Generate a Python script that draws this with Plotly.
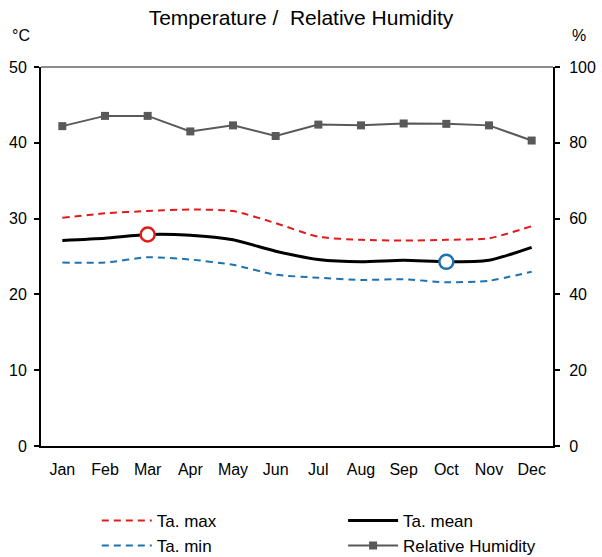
import plotly.graph_objects as go

months = ["Jan", "Feb", "Mar", "Apr", "May", "Jun", "Jul", "Aug", "Sep", "Oct", "Nov", "Dec"]
ta_max = [30.1, 30.7, 31.0, 31.2, 31.0, 29.4, 27.6, 27.2, 27.1, 27.2, 27.4, 29.0]
ta_mean = [27.1, 27.4, 27.9, 27.8, 27.2, 25.7, 24.6, 24.3, 24.5, 24.3, 24.5, 26.2]
ta_min = [24.2, 24.2, 24.9, 24.6, 23.9, 22.6, 22.2, 21.9, 22.0, 21.6, 21.8, 23.0]
humidity = [84.4, 87.1, 87.1, 83.0, 84.6, 81.8, 84.8, 84.6, 85.1, 85.0, 84.6, 80.6]

RED = "#e01b1b"
BLUE = "#1f72b0"
GREY = "#595959"
FONT = "Liberation Sans, Arial, sans-serif"

fig = go.Figure()

fig.add_trace(go.Scatter(x=months, y=ta_max, name="Ta. max", mode="lines", legend="legend",
                         line=dict(color=RED, width=2, dash="7px,5px", shape="spline", smoothing=0.6)))
fig.add_trace(go.Scatter(x=months, y=ta_min, name="Ta. min", mode="lines", legend="legend",
                         line=dict(color=BLUE, width=2, dash="7px,5px", shape="spline", smoothing=0.6)))
fig.add_trace(go.Scatter(x=months, y=ta_mean, name="Ta. mean", mode="lines", legend="legend2",
                         line=dict(color="black", width=3, shape="spline", smoothing=0.6)))
fig.add_trace(go.Scatter(x=months, y=humidity, name="Relative Humidity", mode="lines+markers",
                         yaxis="y2", legend="legend2",
                         line=dict(color=GREY, width=2),
                         marker=dict(symbol="square", size=8, color=GREY)))

# highlight warmest and coolest month of the mean temperature
i_hi = ta_mean.index(max(ta_mean))
i_lo = len(ta_mean) - 1 - ta_mean[::-1].index(min(ta_mean))
fig.add_trace(go.Scatter(x=[months[i_hi]], y=[ta_mean[i_hi]], mode="markers", showlegend=False,
                         marker=dict(symbol="circle", size=14, color="white",
                                     line=dict(color=RED, width=2.5))))
fig.add_trace(go.Scatter(x=[months[i_lo]], y=[ta_mean[i_lo]], mode="markers", showlegend=False,
                         marker=dict(symbol="circle", size=14, color="white",
                                     line=dict(color=BLUE, width=2.5))))

legend_common = dict(orientation="v", xanchor="left", y=-0.15, yanchor="top",
                     font=dict(size=17, family=FONT), itemwidth=50, bgcolor="rgba(0,0,0,0)",
                     tracegroupgap=0)

fig.update_layout(
    width=602, height=557,
    margin=dict(l=41, r=49, t=67, b=111, autoexpand=False),
    paper_bgcolor="white", plot_bgcolor="white",
    font=dict(family=FONT, size=16, color="black"),
    title=dict(text="Temperature /&nbsp; Relative Humidity", x=0.5, xanchor="center",
               y=0.968, yanchor="middle", font=dict(size=21, family=FONT, color="black")),
    xaxis=dict(range=[-0.5, len(months) - 0.5], showgrid=False, showline=True,
               linecolor="black", linewidth=2, ticks="", tickfont=dict(size=16),
               zeroline=False, ticklabelstandoff=8),
    yaxis=dict(range=[0, 50], dtick=10, showgrid=False, showline=True, linecolor="black",
               linewidth=2, ticks="outside", ticklen=5, tickwidth=2, tickcolor="black",
               zeroline=False, tickfont=dict(size=16), ticklabelstandoff=4),
    yaxis2=dict(range=[0, 100], dtick=20, overlaying="y", side="right", showgrid=False,
                showline=True, linecolor="black", linewidth=2, ticks="outside", ticklen=5,
                tickwidth=2, tickcolor="black", zeroline=False, tickfont=dict(size=16),
                ticklabelstandoff=6),
    legend=dict(x=0.109, **legend_common),
    legend2=dict(x=0.59, **legend_common),
    showlegend=True,
)

# top border of the plot area
fig.add_shape(type="line", xref="paper", yref="paper", x0=0, x1=1, y0=1, y1=1,
              line=dict(color="#8c8c8c", width=2))

fig.add_annotation(text="°C", xref="paper", yref="paper", x=-0.04, y=1.084,
                   xanchor="center", yanchor="middle", showarrow=False, font=dict(size=16))
fig.add_annotation(text="%", xref="paper", yref="paper", x=1.05, y=1.084,
                   xanchor="center", yanchor="middle", showarrow=False, font=dict(size=16))

fig.write_html("out.html")
